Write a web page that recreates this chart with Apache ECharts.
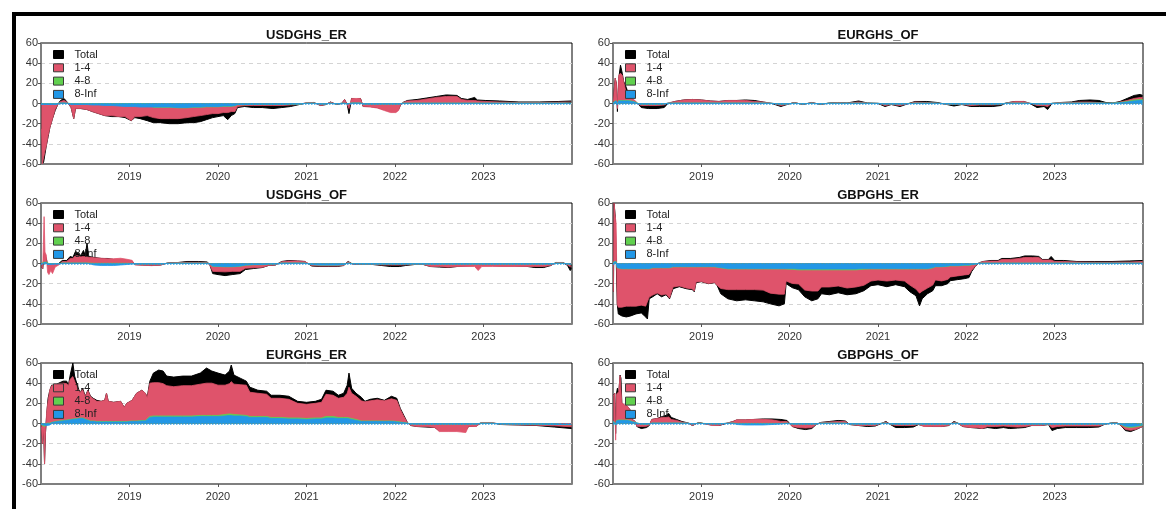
<!DOCTYPE html>
<html>
<head>
<meta charset="utf-8">
<script src="https://cdn.jsdelivr.net/npm/echarts@6/dist/echarts.min.js"></script>
<style>
  html, body { margin: 0; padding: 0; background: #ffffff; }
  #chart { width: 1166px; height: 509px; }
</style>
</head>
<body>
<div id="chart"></div>
<script>
// Frequency decomposition of net spillovers for the cedi pairs.
const yTicks = [-60, -40, -20, 0, 20, 40, 60];
const yearTicks = [2019, 2020, 2021, 2022, 2023];
const bandNames = ['Total', '1-4', '4-8', '8-Inf'];
const bandColors = ['#000000', '#DF536B', '#61D04F', '#2297E6'];
const panelTitles = ['USDGHS_ER', 'EURGHS_OF', 'USDGHS_OF', 'GBPGHS_ER', 'EURGHS_ER', 'GBPGHS_OF'];

// Each row: [year, Total, 1-4, 4-8, 8-Inf]
const usdghsEr = [
  [2018.005, -25, -24, 0, -1], [2018.015, -60, -59, 0, -1], [2018.03, -58, -59, 0, -1],
  [2018.045, -50, -46, 0, -1], [2018.06, -42, -41, 0, -1], [2018.08, -33, -31, 0, -1],
  [2018.10, -24, -23, 0, -1], [2018.13, -15, -14, 0, -1], [2018.16, -7, -5, 0, -1],
  [2018.19, -1, -0.5, 0, -0.5], [2018.22, 3, 1.5, 0, 0.5], [2018.26, 5, 2.5, 0, 0.5],
  [2018.30, 1, 0.7, 0, 0.3], [2018.34, -4, -3, 0, -1], [2018.37, -15, -14, 0, -1],
  [2018.39, -5, -4, 0, -1], [2018.45, -5, -4, 0, -1], [2018.52, -6, -5, 0, -1],
  [2018.58, -8, -6.5, 0, -1.5], [2018.65, -10, -8.5, 0, -1.5], [2018.72, -12, -10, 0, -2],
  [2018.80, -13, -10, 0, -2], [2018.88, -13, -10.5, 0, -2.5], [2018.95, -14, -10, 0, -3],
  [2019.02, -17, -14, 0, -3], [2019.06, -14, -10, 0, -3], [2019.12, -15, -9.5, 0, -3.5],
  [2019.20, -17, -8.5, 0, -3.5], [2019.27, -19, -10.2, -0.3, -3.5], [2019.35, -19, -11.2, -0.3, -3.5],
  [2019.45, -20, -11.2, -0.3, -3.5], [2019.55, -20, -10.7, -0.3, -4], [2019.65, -19, -9.7, -0.3, -4],
  [2019.72, -19, -9.2, -0.3, -3.5], [2019.80, -18, -8.2, -0.3, -3.5], [2019.87, -16, -7.7, -0.3, -3],
  [2019.94, -14, -6.7, -0.3, -3], [2020.00, -13, -6.7, -0.3, -3], [2020.06, -12, -6.2, -0.3, -2.5],
  [2020.11, -16, -6.2, -0.3, -2.5], [2020.15, -12, -5.2, -0.3, -2.5], [2020.19, -10, -5.7, -0.3, -2],
  [2020.22, -4, -1.8, -0.2, -1], [2020.30, -3, -0.8, -0.2, -1], [2020.40, -4, -1.1, -0.2, -0.7],
  [2020.50, -4, -1.1, -0.2, -0.7], [2020.62, -5, -1.1, -0.2, -0.7], [2020.72, -4, -1.1, -0.2, -0.7],
  [2020.82, -3, -0.8, -0.2, -0.5], [2020.92, -1, -0.3, -0.2, -0.5], [2021.00, 0.5, 0.6, 0.1, 0.3],
  [2021.08, 1, 0.6, 0.1, 0.3], [2021.16, -2, -1.4, -0.1, -0.5], [2021.22, -1, -0.4, -0.1, -0.5],
  [2021.27, 1.5, 1.1, 0.1, 0.3], [2021.34, -1, -0.5, -0.1, -0.4], [2021.40, 0, 0.2, 0, 0.3],
  [2021.43, 4, 3.6, 0.1, 0.3], [2021.46, -1, -0.5, -0.1, -0.4], [2021.48, -10, -3.9, -0.1, -1],
  [2021.51, 5, 4.4, 0.1, 0.5], [2021.56, 4, 4.4, 0.1, 0.5], [2021.61, 5, 4.4, 0.1, 0.5],
  [2021.64, -3, -2.4, -0.1, -0.5], [2021.72, -3, -2.9, -0.1, -0.5], [2021.80, -4, -3.9, -0.1, -0.5],
  [2021.88, -6, -6.4, -0.1, -0.5], [2021.95, -8, -8.4, -0.1, -0.5], [2022.01, -8, -8.4, -0.1, -0.5],
  [2022.04, -6, -6.4, -0.1, -0.5], [2022.06, -2, -1.5, -0.1, -0.4], [2022.09, 1, 0.6, 0.1, 0.3],
  [2022.14, 3, 2.1, 0.1, 0.3], [2022.25, 4, 2.6, 0.1, 0.3], [2022.36, 5.5, 4.1, 0.1, 0.3],
  [2022.47, 7, 5.6, 0.1, 0.3], [2022.58, 8.5, 6.6, 0.1, 0.3], [2022.70, 8, 6.6, 0.1, 0.3],
  [2022.75, 5, 3.6, 0.1, 0.3], [2022.82, 4, 2.6, 0.1, 0.3], [2022.90, 6, 2.6, 0.1, 0.3],
  [2022.93, 3.5, 2.1, 0.1, 0.3], [2023.02, 3, 1.6, 0.1, 0.3], [2023.18, 2.5, 1.1, 0.1, 0.3],
  [2023.40, 1.5, 0.6, 0.1, 0.3], [2023.63, 1.5, 0.6, 0.1, 0.3], [2023.85, 2, 0.9, 0.1, 0.3],
  [2023.99, 2.5, 1.1, 0.1, 0.3]
];

const eurghsOf = [
  [2018.005, 2, 1, 0, 1], [2018.012, 12, 9.5, 0.5, 2], [2018.025, 25, 22, 0.5, 2.5],
  [2018.038, 20, 17, 0.5, 2.5], [2018.05, -8, -4, 0, -1], [2018.065, 25, 25, 0.5, 2.5],
  [2018.085, 38, 27, 0.5, 2.5], [2018.105, 30, 25, 0.5, 2.5], [2018.12, 22, 19, 0.5, 2.5],
  [2018.15, 16, 7, 0.5, 2.5], [2018.18, 8, 5, 0.5, 2.5], [2018.21, 5, 2.5, 0.5, 2],
  [2018.25, 2, 1.5, 0.3, 1.2], [2018.29, -1, -0.5, 0, -0.5], [2018.32, -4, -1.3, -0.2, -0.5],
  [2018.40, -5, -1.3, -0.2, -0.5], [2018.50, -5, -1.3, -0.2, -0.5], [2018.58, -4, -1, -0.2, -0.3],
  [2018.62, 0, 0.2, 0, 0.3], [2018.70, 2, 1.5, 0.1, 0.4], [2018.80, 3.5, 3, 0.1, 0.4],
  [2018.90, 4, 3.5, 0.1, 0.4], [2019.00, 3.5, 3, 0.1, 0.4], [2019.10, 2.5, 2, 0.1, 0.4],
  [2019.20, 2, 1.5, 0.1, 0.4], [2019.30, 3, 2.5, 0.1, 0.4], [2019.40, 3, 2.5, 0.1, 0.4],
  [2019.50, 3.5, 2.5, 0.1, 0.4], [2019.60, 3, 1.5, 0.1, 0.4], [2019.70, 1.5, 1, 0.1, 0.4],
  [2019.80, 0, 0.1, 0, 0.2], [2019.90, -3, -1.2, -0.2, -0.6], [2019.97, -1, -0.5, -0.1, -0.4],
  [2020.05, 1, 0.6, 0.1, 0.3], [2020.15, -1, -0.5, -0.1, -0.4], [2020.25, 1, 0.6, 0.1, 0.3],
  [2020.35, -1, -0.5, -0.1, -0.4], [2020.45, 0.5, 0.2, 0, 0.3], [2020.55, 1, 0.6, 0.1, 0.3],
  [2020.65, 0.5, 0.2, 0, 0.3], [2020.78, 2.5, 1.1, 0.1, 0.3], [2020.88, 0.5, 0.2, 0, 0.3],
  [2021.00, 0, 0.1, 0, 0.2], [2021.08, -3, -1.4, -0.1, -0.5], [2021.15, -1, -0.5, -0.1, -0.4],
  [2021.25, -3, -1.4, -0.1, -0.5], [2021.33, -0.5, -0.2, 0, -0.3], [2021.42, 2, 1.1, 0.1, 0.3],
  [2021.55, 2, 0.6, 0.1, 0.3], [2021.67, 1, 0.2, 0, 0.3], [2021.78, -1, -0.5, -0.1, -0.4],
  [2021.86, -2.5, -0.5, -0.1, -0.4], [2021.95, -1, -0.5, -0.1, -0.4], [2022.05, -3, -1.4, -0.1, -0.5],
  [2022.15, -3, -0.9, -0.1, -0.5], [2022.30, -3, -0.9, -0.1, -0.5], [2022.39, -2, -0.5, -0.1, -0.4],
  [2022.45, 0.5, 0.2, 0, 0.3], [2022.55, 2, 1.6, 0.1, 0.3], [2022.65, 2, 1.6, 0.1, 0.3],
  [2022.72, 0, 0.1, 0, 0.2], [2022.80, -4, -1.4, -0.1, -0.5], [2022.88, -3, -1.4, -0.1, -0.5],
  [2022.92, -6, -2.4, -0.1, -0.5], [2022.97, 0, 0.1, 0, 0.2], [2023.07, 1, 0.6, 0.1, 0.3],
  [2023.19, 1.5, 0.6, 0.1, 0.3], [2023.28, 3, 1, 0.1, 0.4], [2023.40, 3.5, 1, 0.1, 0.4],
  [2023.50, 3, 0.5, 0.1, 0.4], [2023.58, 1, 0.1, 0.1, 0.3], [2023.66, 0.5, 0.1, 0.1, 0.3],
  [2023.74, 2, 0.5, 0.3, 0.7], [2023.82, 5, 1, 0.6, 1.4], [2023.90, 8, 1.5, 1, 2.5],
  [2023.97, 9, 2, 1, 3], [2023.995, 8, 2, 1, 3]
];

const usdghsOf = [
  [2018.005, -3, -2, 0, -1], [2018.02, -5, -4, 0, -1], [2018.035, 10, 45, 0.5, 1],
  [2018.045, 8, 10, 0.3, 1], [2018.06, 5, 7, 0.3, 1], [2018.075, -2, -8, 0, -1],
  [2018.09, -2, -10, 0, -1], [2018.11, -1, -6, 0, -1], [2018.13, -2, -9, 0, -1],
  [2018.16, -1, -3, 0, -0.5], [2018.20, 0, -1, 0, -0.5], [2018.24, 3, 1.5, 0.2, 0.3],
  [2018.29, 3, 1.5, 0.2, 0.3], [2018.33, 7, 4.5, 0.2, 0.3], [2018.36, 6, 4.5, 0.2, 0.3],
  [2018.39, 12, 7.5, 0.2, 0.3], [2018.42, 10, 7, 0.2, 0.3], [2018.45, 8, 6, 0.2, 0.3],
  [2018.48, 13, 6.5, 0.2, 0.3], [2018.50, 8, 6, 0.2, 0.3], [2018.52, 20, 6, 0.2, 0.3],
  [2018.54, 7, 6, 0.2, 0.3], [2018.60, 6, 5.5, 0.2, -1.5], [2018.68, 5, 5, 0.2, -2],
  [2018.75, 5, 4.5, 0.2, -2], [2018.82, 4, 4.5, 0.2, -2], [2018.90, 4, 5, 0.2, -1.5],
  [2018.97, 3, 4, 0.2, -1], [2019.03, 2, 3, 0.1, -0.5], [2019.06, -1, -1, -0.1, -0.4],
  [2019.15, -1.5, -1.3, -0.1, -0.4], [2019.25, -2, -1.6, -0.1, -0.4], [2019.35, -1.5, -1.2, -0.1, -0.4],
  [2019.43, 0.5, 0.3, 0, 0.2], [2019.55, 1, 0.6, 0.1, 0.3], [2019.65, 2, 0.8, 0.1, 0.3],
  [2019.78, 2, 0.8, 0.1, 0.3], [2019.88, 1.5, 0.6, 0.1, 0.3], [2019.91, -2, -1.5, -0.1, -0.5],
  [2019.94, -10, -5, -0.3, -2.5], [2020.00, -11, -5, -0.3, -2.7], [2020.08, -12, -5, -0.3, -3],
  [2020.16, -11, -4.5, -0.3, -3], [2020.25, -10, -5, -0.3, -2.5], [2020.31, -6, -3, -0.2, -1.5],
  [2020.40, -5, -3, -0.2, -1], [2020.50, -4, -2.5, -0.2, -1], [2020.57, -2, -1.3, -0.2, -0.5],
  [2020.65, -1.5, -1, -0.1, -0.4], [2020.72, 2, 1.2, 0.1, 0.4], [2020.80, 3, 2, 0.1, 0.4],
  [2020.90, 2.5, 2, 0.1, 0.4], [2020.98, 2, 1.5, 0.1, 0.4], [2021.06, -2.5, -1, -0.1, -1],
  [2021.15, -3, -1, -0.1, -1.5], [2021.25, -3, -1, -0.1, -1.5], [2021.35, -3, -1, -0.1, -1.5],
  [2021.42, -2, -0.8, -0.1, -1], [2021.47, 2, 1.2, 0.1, 0.4], [2021.52, -0.5, -0.3, 0, -0.3],
  [2021.62, -1, -0.5, -0.1, -0.4], [2021.75, -1, -0.5, -0.1, -0.4], [2021.85, -2, -0.8, -0.1, -0.5],
  [2021.95, -3, -1, -0.1, -0.5], [2022.05, -3, -1, -0.1, -0.5], [2022.12, -2, -0.8, -0.1, -0.4],
  [2022.22, -1, -0.5, -0.1, -0.4], [2022.32, -1, -0.5, -0.1, -0.4], [2022.40, -3, -2.4, -0.1, -0.5],
  [2022.50, -3.5, -2.4, -0.1, -0.5], [2022.60, -4, -3, -0.1, -0.5], [2022.70, -3, -2.4, -0.1, -0.5],
  [2022.80, -2.5, -2.4, -0.1, -0.5], [2022.90, -2, -2.4, -0.1, -0.5], [2022.94, -2, -6.4, -0.1, -0.5],
  [2022.98, -2, -2.4, -0.1, -0.5], [2023.10, -2, -2.4, -0.1, -0.5], [2023.20, -2.5, -2.4, -0.1, -0.5],
  [2023.35, -2.5, -2.4, -0.1, -0.5], [2023.50, -3, -2.4, -0.1, -0.5], [2023.58, -4, -2.4, -0.1, -0.5],
  [2023.68, -4, -2.4, -0.1, -0.5], [2023.76, -2, -1.5, -0.1, -0.4], [2023.82, 1, 0.6, 0.1, 0.3],
  [2023.90, 1, 0.6, 0.1, 0.3], [2023.95, -2, -1, -0.1, -0.4], [2023.98, -7, -2.4, -0.2, -0.6],
  [2023.995, -5, -2.4, -0.2, -0.6]
];

const gbpghsEr = [
  [2018.005, -28, -27, 0, -1], [2018.012, 60, 58, 0.5, 1.5], [2018.025, 47, 45, 0.5, 1.5],
  [2018.035, 47, 38, 0.5, 1.5], [2018.048, -40, -36, -0.3, -4], [2018.06, -50, -38, -0.3, -5],
  [2018.10, -52, -38, -0.3, -5], [2018.15, -53, -37, -0.3, -5], [2018.20, -52, -37, -0.3, -5],
  [2018.26, -50, -37, -0.3, -5], [2018.32, -49, -36, -0.3, -5], [2018.37, -53, -37, -0.3, -5],
  [2018.39, -55, -38, -0.3, -5], [2018.41, -35, -28, -0.3, -5], [2018.45, -33, -27, -0.3, -4],
  [2018.50, -30, -25, -0.3, -4], [2018.55, -33, -27, -0.3, -4], [2018.60, -31, -26, -0.3, -4],
  [2018.64, -35, -30, -0.3, -4], [2018.66, -36, -31, -0.3, -4], [2018.68, -25, -20, -0.3, -3],
  [2018.75, -23, -19, -0.3, -3], [2018.83, -25, -21, -0.3, -3], [2018.90, -26, -22, -0.3, -3],
  [2018.92, -28, -24, -0.3, -3], [2018.94, -19, -15, -0.3, -3], [2019.00, -18, -14.5, -0.3, -3],
  [2019.08, -20, -16.5, -0.3, -3], [2019.15, -19, -15.5, -0.3, -3], [2019.18, -22, -18, -0.3, -3.5],
  [2019.22, -30, -20.5, -0.3, -4], [2019.30, -35, -20.5, -0.4, -5], [2019.40, -37, -20.5, -0.4, -5],
  [2019.50, -36, -20.5, -0.4, -5], [2019.60, -37, -20.5, -0.4, -5], [2019.70, -38, -21, -0.4, -5],
  [2019.78, -40, -24, -0.4, -5], [2019.88, -42, -25, -0.4, -5], [2019.94, -40, -25, -0.4, -5],
  [2019.96, -20, -12, -0.4, -5], [2020.03, -24, -14, -0.8, -5], [2020.10, -26, -14, -0.8, -5.5],
  [2020.17, -33, -20, -0.8, -5.5], [2020.25, -37, -21, -0.8, -5.5], [2020.32, -35, -21, -0.8, -5.5],
  [2020.36, -30, -17, -0.8, -5.5], [2020.45, -31, -17, -0.8, -5.5], [2020.55, -29, -16, -0.8, -5.5],
  [2020.65, -31, -18, -0.8, -5.5], [2020.75, -30, -17, -0.8, -5.5], [2020.84, -27, -16, -0.6, -5],
  [2020.92, -22, -12, -0.4, -5], [2021.00, -21, -11, -0.4, -5], [2021.10, -23, -12, -0.4, -5],
  [2021.20, -21, -11, -0.4, -5], [2021.30, -23, -12, -0.4, -5], [2021.36, -28, -16, -0.4, -5],
  [2021.43, -32, -20, -0.4, -5], [2021.47, -42, -24, -0.4, -5], [2021.50, -35, -22, -0.4, -5],
  [2021.56, -30, -19, -0.4, -5], [2021.62, -27, -17, -0.4, -4], [2021.65, -22, -13, -0.3, -3],
  [2021.72, -22, -14, -0.3, -3], [2021.79, -20, -13, -0.3, -2.5], [2021.82, -17, -11, -0.3, -2],
  [2021.90, -16, -10, -0.3, -2], [2021.98, -15, -9.5, -0.3, -1.5], [2022.03, -14, -9, -0.3, -1.5],
  [2022.06, -8, -5.5, -0.3, -1], [2022.10, -3, -2, -0.2, -0.5], [2022.14, 0.5, 0.3, 0.1, 0.2],
  [2022.19, 2, 1.5, 0.1, 0.3], [2022.28, 3, 2, 0.1, 0.3], [2022.36, 3, 2, 0.1, 0.3],
  [2022.40, 5, 3.6, 0.1, 0.3], [2022.50, 5, 3.6, 0.1, 0.3], [2022.60, 6, 4.6, 0.1, 0.3],
  [2022.66, 7.5, 5.6, 0.1, 0.3], [2022.75, 7.5, 5.6, 0.1, 0.3], [2022.82, 7, 5.6, 0.1, 0.3],
  [2022.86, 4, 3.1, 0.1, 0.3], [2022.93, 4, 3.1, 0.1, 0.3], [2022.96, 7, 3.1, 0.1, 0.3],
  [2023.00, 3, 1.6, 0.1, 0.3], [2023.10, 3, 1.6, 0.1, 0.3], [2023.25, 2, 1.1, 0.1, 0.3],
  [2023.45, 2, 0.9, 0.1, 0.3], [2023.65, 2, 0.9, 0.1, 0.3], [2023.85, 2.5, 1.1, 0.1, 0.3],
  [2023.995, 3, 1.6, 0.1, 0.3]
];

const eurghsEr = [
  [2018.005, -3, -2, 0, -1], [2018.015, -20, -18, -0.5, -1.5], [2018.03, -5, -3, -0.5, -1.5],
  [2018.04, -40, -37, -0.5, -2.5], [2018.05, -10, -7, -0.5, -2.5], [2018.065, 10, 12, 0.3, -2],
  [2018.08, 25, 22, 0.3, -2], [2018.10, 33, 33, 0.5, -1.5], [2018.12, 38, 36, 0.5, 1],
  [2018.16, 38, 36, 0.5, 1.5], [2018.20, 40, 37, 0.5, 2], [2018.25, 42, 37, 0.5, 2.5],
  [2018.29, 42, 36, 0.5, 3], [2018.31, 38, 34, 0.5, 3], [2018.33, 48, 40, 0.5, 3.5],
  [2018.36, 60, 42, 0.5, 4], [2018.38, 47, 40, 0.5, 4.5], [2018.41, 38, 30, 0.5, 4.5],
  [2018.44, 30, 25, 0.5, 5], [2018.47, 35, 28, 0.5, 5], [2018.50, 27, 22, 0.5, 4],
  [2018.53, 33, 29, 0.5, 3], [2018.56, 27, 24, 0.5, 2], [2018.59, 25, 22, 0.5, 2],
  [2018.63, 23, 20, 0.5, 1.5], [2018.68, 22, 20, 0.5, 1.5], [2018.72, 23, 21, 0.5, 1.5],
  [2018.74, 30, 28, 0.5, 1.5], [2018.76, 22, 20, 0.5, 1.5], [2018.82, 21, 19, 0.5, 1.5],
  [2018.90, 22, 20, 0.5, 1.5], [2018.94, 16, 14, 0.5, 1.5], [2018.97, 20, 18, 0.5, 1.5],
  [2019.03, 23, 20.5, 0.5, 2], [2019.08, 30, 27.5, 0.5, 2], [2019.14, 33, 30, 0.5, 2.5],
  [2019.18, 30, 27, 0.5, 2.5], [2019.20, 26, 22, 0.5, 3], [2019.23, 42, 33, 1, 6],
  [2019.27, 50, 33, 1, 6.5], [2019.33, 53, 33, 1, 6.5], [2019.38, 52, 32, 1, 6.5],
  [2019.42, 47, 30, 1, 6.5], [2019.50, 46, 29, 1, 6.5], [2019.60, 47, 30, 1, 6.5],
  [2019.70, 47, 30, 1, 6.5], [2019.80, 50, 31, 1, 7], [2019.87, 55, 32, 1, 7],
  [2019.93, 52, 32, 1, 7], [2020.00, 50, 30, 1, 7], [2020.08, 48, 29, 1.5, 7.5],
  [2020.13, 52, 30, 1.5, 8], [2020.15, 58, 32, 1.5, 8], [2020.18, 48, 30, 1.5, 7.5],
  [2020.25, 45, 30, 1, 7.5], [2020.32, 42, 30, 1, 7], [2020.36, 36, 24, 1, 6],
  [2020.45, 33, 23, 1, 6], [2020.55, 32, 22, 1, 6], [2020.60, 28, 19, 1, 5],
  [2020.70, 28, 19, 1, 5], [2020.80, 27, 18.5, 1, 4.5], [2020.90, 22, 14.5, 1, 4.5],
  [2021.00, 21, 14, 1, 4], [2021.10, 22, 14.5, 1, 4.5], [2021.17, 24, 15.5, 1, 4.5],
  [2021.22, 33, 22, 1.5, 5.5], [2021.30, 32, 21, 1.5, 5.5], [2021.36, 28, 19, 1, 5],
  [2021.42, 30, 20, 1, 5], [2021.46, 38, 24, 1, 5], [2021.48, 50, 30, 1, 5],
  [2021.51, 35, 25, 1, 4], [2021.56, 30, 23, 1, 3], [2021.62, 26, 20, 0.5, 2],
  [2021.66, 22, 19, 0.5, 2], [2021.72, 24, 20, 0.5, 2], [2021.80, 25, 21, 0.5, 2],
  [2021.88, 23, 20, 0.5, 2], [2021.96, 27, 22, 0.5, 2], [2022.02, 25, 21, 0.5, 1.5],
  [2022.06, 15, 12.5, 0.5, 1], [2022.10, 8, 6, 0.3, 0.7], [2022.14, 1, 0.5, 0.1, 0.3],
  [2022.18, -2, -1.5, -0.1, -0.4], [2022.25, -3, -2.4, -0.1, -0.5], [2022.35, -3.5, -2.4, -0.1, -0.5],
  [2022.45, -4, -3.4, -0.1, -0.5], [2022.50, -7, -7.4, -0.1, -0.5], [2022.60, -7, -7.4, -0.1, -0.5],
  [2022.70, -7, -7.4, -0.1, -0.5], [2022.80, -7, -8.4, -0.1, -0.5], [2022.83, -3, -2.4, -0.1, -0.5],
  [2022.92, -2.5, -2.4, -0.1, -0.5], [2022.97, 0.5, 0.6, 0.1, 0.3], [2023.10, 0.5, 0.6, 0.1, 0.3],
  [2023.20, -1, -0.5, -0.1, -0.4], [2023.40, -1.5, -0.8, -0.1, -0.5], [2023.60, -2, -1, -0.1, -0.6],
  [2023.80, -3.5, -1.4, -0.1, -0.8], [2023.995, -5, -2, -0.2, -1]
];

const gbpghsOf = [
  [2018.005, 28, 25, 0.5, 2], [2018.02, 30, 27, 0.5, 2.5], [2018.03, -10, -15, -0.5, -1],
  [2018.04, 30, 26, 0.5, 2.5], [2018.05, 35, 25, 0.5, 2.5], [2018.065, 30, 28, 0.5, 3],
  [2018.08, 48, 44, 0.5, 3], [2018.09, 45, 30, 0.5, 3], [2018.10, 20, 17, 0.5, 3],
  [2018.13, 18, 15, 0.5, 3], [2018.16, 17, 14, 0.5, 3], [2018.19, 14, 11, 0.5, 2.5],
  [2018.22, 4, 2, 0.3, 1.5], [2018.25, 2, 1, 0.2, 1], [2018.27, -3, -2, -0.2, -0.5],
  [2018.32, -5, -2.3, -0.2, -0.5], [2018.38, -4, -2, -0.2, -0.5], [2018.41, -2, -1, -0.1, -0.4],
  [2018.44, 4, 3.5, 0.1, 0.4], [2018.50, 5, 4.5, 0.1, 0.4], [2018.56, 7, 5.5, 0.1, 0.4],
  [2018.60, 8, 5.5, 0.1, 0.4], [2018.63, 10, 6, 0.1, 0.4], [2018.66, 6, 3.5, 0.1, 0.4],
  [2018.72, 4, 2.5, 0.1, 0.4], [2018.78, 2, 1, 0.1, 0.3], [2018.85, 0.5, 0.2, 0, 0.3],
  [2018.90, -2, -1.5, -0.1, -0.4], [2018.97, 1, 0.6, 0.1, 0.3], [2019.05, -0.5, -0.3, 0, -0.2],
  [2019.12, -1.5, -1.6, -0.1, -0.3], [2019.20, -2, -1.6, -0.1, -0.3], [2019.28, 0, 0.1, 0, 0.2],
  [2019.36, 2, 1.5, 0.1, 0.4], [2019.40, 3.5, 3.5, 0.1, -1], [2019.50, 3.5, 3.5, 0.1, -1.5],
  [2019.60, 4, 4, 0.1, -1.5], [2019.70, 4.5, 4, 0.1, -1.5], [2019.80, 4.5, 3.5, 0.1, -1],
  [2019.90, 4, 2, 0.1, -0.5], [2019.97, 3, 1.5, 0.1, 0.3], [2020.03, -3, -2.4, -0.1, -0.5],
  [2020.10, -5, -3.4, -0.1, -0.5], [2020.18, -6, -3.9, -0.1, -0.5], [2020.25, -5, -3.4, -0.1, -0.5],
  [2020.30, -1, -0.5, -0.1, -0.4], [2020.35, 1, 0.6, 0.1, 0.3], [2020.45, 2, 1.1, 0.1, 0.3],
  [2020.55, 3, 1.6, 0.1, 0.3], [2020.63, 2.5, 1.6, 0.1, 0.3], [2020.68, -1, -0.5, -0.1, -0.4],
  [2020.78, -2, -1.4, -0.1, -0.5], [2020.88, -3, -1.4, -0.1, -0.5], [2020.97, -2.5, -1.4, -0.1, -0.5],
  [2021.05, 0.5, 0.2, 0, 0.3], [2021.09, 2, 1.1, 0.1, 0.3], [2021.14, -1, -0.5, -0.1, -0.4],
  [2021.20, -4, -1.4, -0.1, -0.5], [2021.30, -4, -1.4, -0.1, -0.5], [2021.40, -3.5, -1.4, -0.1, -0.5],
  [2021.46, -1, -0.5, -0.1, -0.4], [2021.52, -2.5, -2.4, -0.1, -0.5], [2021.62, -3, -2.4, -0.1, -0.5],
  [2021.72, -3, -2.4, -0.1, -0.5], [2021.80, -2, -1.4, -0.1, -0.5], [2021.86, 2, 1.1, 0.1, 0.3],
  [2021.90, 0.5, 0.2, 0, 0.3], [2021.96, -3, -2.4, -0.1, -0.5], [2022.05, -4, -3.4, -0.1, -0.5],
  [2022.12, -4.5, -3.4, -0.1, -0.5], [2022.18, -5, -4.4, -0.1, -0.5], [2022.24, -4, -2.4, -0.1, -0.5],
  [2022.33, -5, -2.4, -0.1, -0.5], [2022.42, -4, -1.9, -0.1, -0.5], [2022.49, -5, -2.4, -0.1, -0.5],
  [2022.58, -4.5, -2.9, -0.1, -0.5], [2022.66, -4, -2.4, -0.1, -0.5], [2022.74, -2, -1.4, -0.1, -0.5],
  [2022.85, -2, -1.4, -0.1, -0.5], [2022.93, -1, -0.5, -0.1, -0.4], [2022.97, -7, -3.4, -0.1, -0.5],
  [2023.03, -5, -2.4, -0.1, -0.5], [2023.12, -4, -1.9, -0.1, -0.5], [2023.25, -4, -1.9, -0.1, -0.5],
  [2023.38, -4, -1.9, -0.1, -0.5], [2023.50, -3.5, -1.9, -0.1, -0.5], [2023.56, -1, -0.5, -0.1, -0.4],
  [2023.64, 0.5, 0.2, 0, 0.3], [2023.70, 1, 0.6, 0.1, 0.3], [2023.75, -2, -1, -0.3, -0.7],
  [2023.80, -7, -2.5, -0.8, -2.5], [2023.86, -8, -2.8, -1, -3], [2023.92, -6, -2.5, -0.8, -2.5],
  [2023.995, -3, -1, -0.5, -1.5]
];

const panelData = [usdghsEr, eurghsOf, usdghsOf, gbpghsEr, eurghsEr, gbpghsOf];

// Panel layout: two columns, three rows
const colLeft = [41, 613];
const colWidth = [531, 530];
const rowTop = [43, 203, 363];
const plotHeight = 121;
const fontFamily = '"Liberation Sans", Arial, Helvetica, sans-serif';

// Bands are stacked outward from zero in the order 8-Inf, 4-8, 1-4,
// positives and negatives separately. Returns the outer edge of each band.
function bandEdges(rows) {
  const edges = { 1: [], 2: [], 3: [] };   // keyed by band index in bandNames
  rows.forEach(r => {
    let pos = 0, neg = 0;
    [3, 2, 1].forEach(k => {
      const v = r[k + 1];
      let edge;
      if (v >= 0) { pos += v; edge = pos; } else { neg += v; edge = neg; }
      edges[k].push([r[0], edge]);
    });
  });
  return edges;
}

const grids = [], xAxes = [], yAxes = [], titles = [], legends = [], series = [];

panelData.forEach((rows, i) => {
  const col = i % 2, row = Math.floor(i / 2);
  const left = colLeft[col], top = rowTop[row], width = colWidth[col];

  grids.push({
    left: left, top: top, width: width, height: plotHeight,
    show: true, borderColor: '#000', borderWidth: 1, backgroundColor: 'transparent'
  });

  xAxes.push({
    type: 'value', gridIndex: i, min: 2018, max: 2024,
    splitLine: { show: false },
    axisLine: { show: true, onZero: false, lineStyle: { color: '#7f7f7f', width: 2 } },
    axisTick: { show: true, customValues: yearTicks, length: 3, lineStyle: { color: '#555', width: 1 } },
    axisLabel: {
      customValues: yearTicks, formatter: v => String(Math.round(v)),
      color: '#333', fontSize: 11, margin: 7, fontFamily: fontFamily
    }
  });

  yAxes.push({
    type: 'value', gridIndex: i, min: yTicks[0], max: yTicks[yTicks.length - 1], interval: 20,
    axisLine: { show: true, lineStyle: { color: '#7f7f7f', width: 2 } },
    axisTick: { show: true, length: 3, lineStyle: { color: '#555', width: 1 } },
    axisLabel: { color: '#333', fontSize: 11, margin: 3, fontFamily: fontFamily },
    splitLine: {
      show: true, showMinLine: false, showMaxLine: false,
      lineStyle: { color: '#d4d4d4', type: [4, 4], width: 1 }
    }
  });

  titles.push({
    text: panelTitles[i], left: left + width / 2, top: top - 14, textAlign: 'center',
    padding: 0,
    textStyle: { fontSize: 13, fontWeight: 'bold', color: '#111', fontFamily: fontFamily }
  });

  legends.push({
    orient: 'vertical', left: left + 12, top: top + 5, z: 10, padding: 0,
    icon: 'rect', itemWidth: 10, itemHeight: 8, itemGap: 0.3,
    selectedMode: false,
    textStyle: { fontSize: 11, color: '#222', lineHeight: 13, padding: [0, 0, 0, 6], fontFamily: fontFamily },
    data: bandNames.map((name, k) => ({
      name: name,
      itemStyle: { color: bandColors[k], borderColor: k === 0 ? '#000' : '#3a3a3a', borderWidth: 1 }
    }))
  });

  // Total drawn first, behind the frequency bands
  series.push({
    name: bandNames[0], type: 'line', xAxisIndex: i, yAxisIndex: i, z: 2,
    symbol: 'none', animation: false,
    lineStyle: { color: bandColors[0], width: 1 },
    itemStyle: { color: bandColors[0] },
    areaStyle: { color: bandColors[0], opacity: 1 },
    data: rows.map(r => [r[0], r[1]])
  });

  // Outermost band first so the inner bands paint over it
  const edges = bandEdges(rows);
  [1, 2, 3].forEach((k, order) => {
    const s = {
      name: bandNames[k], type: 'line', xAxisIndex: i, yAxisIndex: i, z: 3 + order,
      symbol: 'none', animation: false,
      lineStyle: { color: bandColors[k], width: 0.8 },
      itemStyle: { color: bandColors[k] },
      areaStyle: { color: bandColors[k], opacity: 1 },
      data: edges[k]
    };
    if (k === 3) {
      s.markLine = {
        silent: true, symbol: 'none', animation: false,
        label: { show: false },
        lineStyle: { color: '#2297E6', type: [1.5, 1.5], width: 1.6, opacity: 0.9 },
        data: [{ yAxis: 0 }]
      };
    }
    series.push(s);
  });
});

const chart = echarts.init(document.getElementById('chart'), null, { renderer: 'canvas' });
chart.setOption({
  animation: false,
  backgroundColor: '#ffffff',
  title: titles,
  legend: legends,
  grid: grids,
  xAxis: xAxes,
  yAxis: yAxes,
  series: series,
  graphic: [{
    type: 'rect', silent: true, z: 100,
    shape: { x: 14, y: 14, width: 1400, height: 800 },
    style: { fill: 'none', stroke: '#000', lineWidth: 4 }
  }]
});
</script>
</body>
</html>
